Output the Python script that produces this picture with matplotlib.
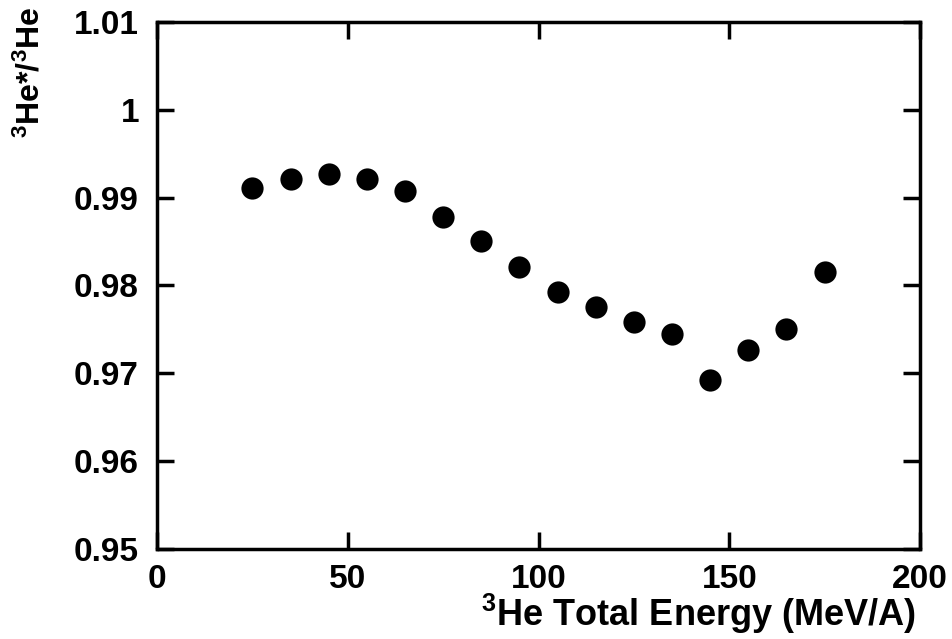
import numpy as np
import matplotlib
matplotlib.use("Agg")
import matplotlib.pyplot as plt

# 3He total energy (MeV/A) and ratio 3He*/3He
energy = [25, 35, 45, 55, 65, 75, 85, 95, 105, 115, 125, 135, 145, 155, 165, 175]
ratio = [0.9911, 0.9921, 0.9927, 0.9921, 0.9908, 0.9878, 0.9851, 0.9821,
         0.9793, 0.9775, 0.9758, 0.9745, 0.9692, 0.9726, 0.9750, 0.9815]

xticks = [0, 50, 100, 150, 200]
yticks = [0.95, 0.96, 0.97, 0.98, 0.99, 1.0, 1.01]
yticklabels = ["0.95", "0.96", "0.97", "0.98", "0.99", "1", "1.01"]

plt.rcParams["font.family"] = "Liberation Sans"
plt.rcParams["font.weight"] = "bold"
plt.rcParams["mathtext.fontset"] = "custom"
plt.rcParams["mathtext.rm"] = "Liberation Sans:bold"
plt.rcParams["mathtext.bf"] = "Liberation Sans:bold"
plt.rcParams["mathtext.default"] = "rm"

fig = plt.figure(figsize=(9.52, 6.39), dpi=100)
ax = fig.add_axes([157/952, 1 - 549/639, (920-157)/952, (549-22)/639])

ax.plot(energy, ratio, "o", color="black", markersize=16, markeredgewidth=0)

ax.set_xlim(0, 200)
ax.set_ylim(0.95, 1.01)
ax.set_xticks(xticks)
ax.set_yticks(yticks)
ax.set_yticklabels(yticklabels)
ax.tick_params(direction="in", length=12, width=2.5, top=True, right=True,
               labelsize=24)
ax.tick_params(axis="y", pad=13)
ax.tick_params(axis="x", pad=11)
for s in ax.spines.values():
    s.set_linewidth(2.5)

fig.text(0.032, 0.99, r"$^{3}$He*/$^{3}$He", rotation=90, ha="center", va="top",
         fontsize=23, fontweight="bold")
fig.text(0.962, 0.004, r"$^{3}$He Total Energy (MeV/A)", ha="right", va="bottom",
         fontsize=26, fontweight="bold")

fig.savefig("out.png", dpi=100)
